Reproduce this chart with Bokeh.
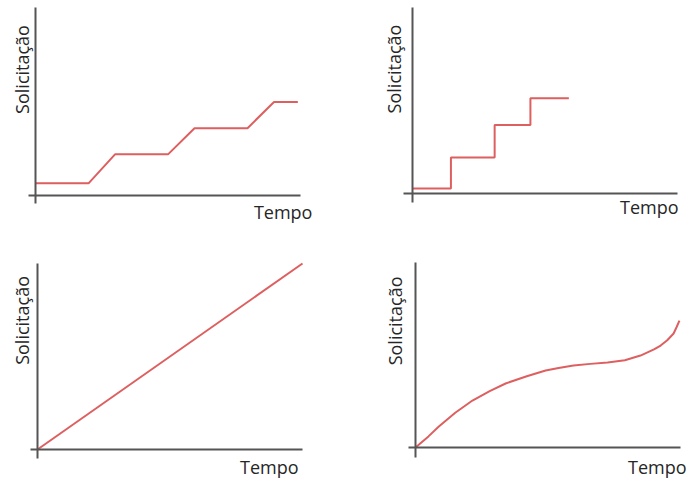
from bokeh.plotting import figure
from bokeh.layouts import gridplot
from bokeh.models import Label, FixedTicker
from bokeh.embed import file_html
from bokeh.resources import INLINE

# ---- data (arbitrary units: tempo on x, solicitação on y) ----
x_label = "Tempo"
y_label = "Solicitação"

# panel 1: ramped steps
ramp_t = [0, 2, 3, 5, 6, 8, 9, 9.9]
ramp_s = [0.65, 0.65, 2.2, 2.2, 3.6, 3.6, 5.0, 5.0]

# panel 2: sudden steps
step_t = [0, 1.45, 3.1, 4.45, 5.9]
step_s = [0.27, 1.95, 3.7, 5.15, 5.15]

# panel 3: linear
lin_t = [0, 10]
lin_s = [0, 10]

# panel 4: curve
curve_t = [0, 0.49, 0.87, 1.5, 2.15, 2.8, 3.4, 4.2, 4.91, 5.4, 5.96, 6.6, 7.25, 7.9, 8.49, 9.0, 9.25, 9.5, 9.74, 9.85, 9.96]
curve_s = [0, 0.6, 1.12, 1.88, 2.54, 3.05, 3.46, 3.85, 4.16, 4.3, 4.43, 4.52, 4.59, 4.72, 4.97, 5.3, 5.51, 5.8, 6.16, 6.5, 6.86]

RED = "#dd5f5f"
AXIS = "#555555"
TXT = "#262626"
FONT = "Open Sans"


def make_panel(w, h, xr, yr, xb, yb, ylab_pos, xlab_pos):
    p = figure(width=w, height=h, x_range=xr, y_range=yr, title=None,
               toolbar_location=None, output_backend="svg",
               min_border_left=0, min_border_right=0,
               min_border_top=0, min_border_bottom=0)
    p.grid.visible = False
    p.outline_line_color = None
    p.background_fill_color = "white"
    p.border_fill_color = "white"
    for ax, b in ((p.xaxis[0], xb), (p.yaxis[0], yb)):
        ax.fixed_location = 0
        ax.bounds = b
        ax.ticker = FixedTicker(ticks=[])
        ax.major_tick_line_color = None
        ax.minor_tick_line_color = None
        ax.major_label_text_font_size = "0px"
        ax.axis_line_color = AXIS
        ax.axis_line_width = 2
    p.add_layout(Label(x=ylab_pos[0], y=ylab_pos[1], text=y_label, angle=1.5708,
                       text_align="center", text_baseline="middle",
                       text_font=FONT, text_font_size="18px", text_color=TXT))
    p.add_layout(Label(x=xlab_pos[0], y=xlab_pos[1], text=x_label,
                       text_align="right", text_baseline="alphabetic",
                       text_font=FONT, text_font_size="18px", text_color=TXT))
    return p


p1 = make_panel(348, 240, (-1.321, 11.811), (-2.406, 10.428),
                (-0.264, 10), (-0.428, 10.05),
                (-0.528, 6.74), (10.45, -0.90))
p1.line(ramp_t, ramp_s, line_color=RED, line_width=2)

p2 = make_panel(340, 240, (-2.415, 10.415), (-2.54, 10.43),
                (-0.34, 10), (-0.486, 10.05),
                (-0.70, 6.73), (10.04, -0.75))
p2.step(step_t, step_s, mode="after", line_color=RED, line_width=2)

p3 = make_panel(348, 238, (-1.396, 11.736), (-1.559, 11.237),
                (-0.264, 10), (-0.484, 10.0),
                (-0.585, 6.94), (9.85, -0.92))
p3.line(lin_t, lin_s, line_color=RED, line_width=2)

p4 = make_panel(340, 238, (-2.528, 10.302), (-1.676, 11.189),
                (-0.264, 10), (-0.54, 10.0),
                (-0.755, 6.84), (10.23, -1.04))
p4.line(curve_t, curve_s, line_color=RED, line_width=2)

grid = gridplot([[p1, p2], [p3, p4]], toolbar_location=None)

open("out.html", "w").write(file_html(grid, INLINE))
